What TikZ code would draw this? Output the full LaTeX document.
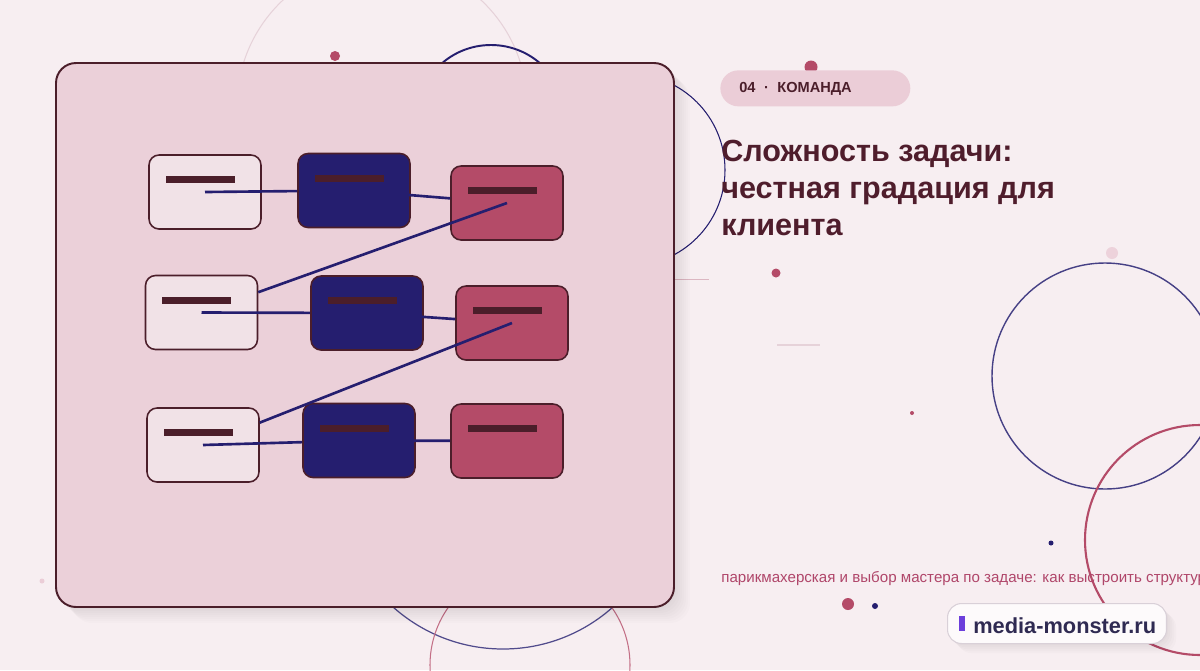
\documentclass[tikz,border=0pt]{standalone}
\usepackage{fontspec}
\setmainfont{Liberation Sans}
\usepackage{tikz}

\definecolor{bgpink}{HTML}{F7EEF1}
\definecolor{panelpink}{HTML}{EBD0D9}
\definecolor{maroon}{HTML}{4B1E2A}
\definecolor{titleink}{HTML}{4F1D2C}
\definecolor{navy}{HTML}{251E6F}
\definecolor{crimson}{HTML}{B44B68}
\definecolor{palebox}{HTML}{F1E2E7}
\definecolor{badgepink}{HTML}{EBCDD7}
\definecolor{softline}{HTML}{E6D2D9}
\definecolor{footink}{HTML}{B0466A}
\definecolor{logoink}{HTML}{2F2A52}
\definecolor{logobar}{HTML}{6C3FDB}
\definecolor{logoedge}{HTML}{D9D0D8}

\begin{document}
\begin{tikzpicture}[x=0.02cm,y=-0.02cm,
			box/.style={rectangle,rounded corners=0.2cm,draw=maroon,line width=0.9pt,
				minimum width=2.24cm,minimum height=1.48cm,inner sep=0pt},
			light node/.style={box,fill=palebox},
			navy node/.style={box,fill=navy},
			rose node/.style={box,fill=crimson},
			bar/.style={rectangle,fill=maroon,minimum width=1.38cm,minimum height=0.14cm,
				inner sep=0pt,anchor=north west},
			link/.style={draw=navy,line width=1.5pt},
			dot/.style={fill=crimson}]
			
			\useasboundingbox (0,0) rectangle (1200,670);
			\fill[bgpink] (0,0) rectangle (1200,670);
			
			% decoration behind everything
			\draw[softline,line width=0.6pt] (382,106) circle[radius=145];
			\draw[navy,line width=1.1pt] (491,120) circle[radius=75];
			\draw[navy,line width=0.6pt] (629,170) circle[radius=96];
			\draw[navy!80,line width=0.7pt] (503,484) circle[radius=165];
			\draw[crimson!80,line width=0.6pt] (530,665) circle[radius=100];
			\draw[navy!85,line width=0.8pt] (1105,376) circle[radius=113];
			\draw[crimson,line width=1.2pt] (1200,540) circle[radius=115];
			\draw[softline!80!crimson,line width=0.5pt] (675,279) -- (709,279);
			\draw[softline,line width=0.6pt] (777,345) -- (820,345);
			\fill[dot] (335,56) circle[radius=5];
			\fill[dot] (811,67) circle[radius=6.5];
			\fill[dot] (776,273) circle[radius=4.5];
			\fill[dot] (912,413) circle[radius=2];
			\fill[dot] (848,604) circle[radius=6];
			\fill[navy] (1051,543) circle[radius=2.5];
			\fill[navy] (875,606) circle[radius=3];
			\fill[badgepink!90!white] (1112,253) circle[radius=6];
			\fill[badgepink] (42,581) circle[radius=2.5];
			
			\foreach \s in {2,4,6,8,10,12,14,16}
			\fill[black,opacity=0.012,rounded corners=0.4cm] (56+\s,63+\s) rectangle (674+\s,607+\s);
			\draw[maroon,line width=1.1pt,fill=panelpink,rounded corners=0.4cm] (56,63) rectangle (674,607);
			
			\node[light node] (L1) at (205,192) {};
			\node[navy node] (M1) at (354,190.5) {};
			\node[rose node] (R1) at (507,203) {};
			\node[light node] (L2) at (201.5,312.5) {};
			\node[navy node] (M2) at (367,313) {};
			\node[rose node] (R2) at (512,323) {};
			\node[light node] (L3) at (203,445) {};
			\node[navy node] (M3) at (359,440.5) {};
			\node[rose node] (R3) at (507,441) {};
			\foreach \n in {L1,M1,R1,L2,M2,R2,L3,M3,R3}
			\node[bar] at ([shift={(17,21.5)}]\n.north west) {};
			
			\path[link]
			(L1.center) edge (M1)
			(M1.center) edge (R1)
			(R1.center) edge (L2)
			(L2.center) edge (M2)
			(M2.center) edge (R2)
			(R2.center) edge (L3)
			(L3.center) edge (M3)
			(M3.center) edge (R3);
			
			\node[fill=badgepink,rounded corners=0.36cm,minimum width=3.8cm,minimum height=0.72cm,
				anchor=north west,inner sep=0pt] (badge) at (720,70) {};
			\node[anchor=base west,inner sep=0pt,text=maroon,
				font=\bfseries\fontsize{8.3}{10}\selectfont] (tag) at (739,92)
				{04\hspace{0.17cm}·\hspace{0.17cm}КОМАНДА};
			\node[anchor=north west,align=left,inner sep=0pt,text=titleink,
				font=\bfseries\fontsize{17.4}{21.2}\selectfont] (title) at (721,139.5)
				{Сложность задачи:\\честная градация для\\клиента};
			\node[anchor=base west,inner sep=0pt,text=footink,
				font=\fontsize{8.6}{10}\selectfont] (footer) at (721,582)
				{парикмахерская и выбор мастера по задаче: как выстроить структуру};
			
			\foreach \s in {2,4,6,8,10}
			\fill[black,opacity=0.015,rounded corners=0.28cm] (947+\s,603+\s) rectangle (1166+\s,643+\s);
			\node[draw=logoedge,fill=white!70!bgpink,line width=0.6pt,rounded corners=0.28cm,
				minimum width=4.38cm,minimum height=0.8cm,anchor=north west,inner sep=0pt] (logo) at (947,603) {};
			\fill[logobar] (959,616) rectangle (965,631);
			\node[anchor=base west,inner sep=0pt,text=logoink,
				font=\bfseries\fontsize{12.4}{14}\selectfont] (site) at (973,633) {media-monster.ru};
		\end{tikzpicture}
\end{document}
